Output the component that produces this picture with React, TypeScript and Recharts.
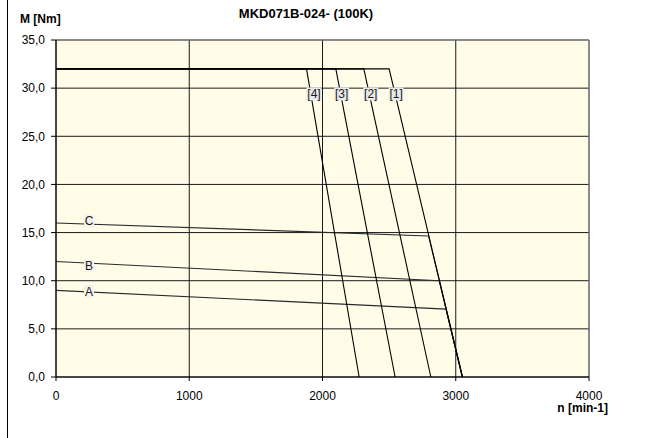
import { LineChart, Line, XAxis, YAxis, CartesianGrid, ReferenceLine, ReferenceDot } from 'recharts';

const speedTicks = [0, 1000, 2000, 3000, 4000];
const torqueTicks = [0, 5, 10, 15, 20, 25, 30, 35];

// torque-speed limit curves [1]..[4]
const curve1 = [{ n: 0, m: 32 }, { n: 2500, m: 32 }, { n: 3050, m: 0 }];
const curve2 = [{ n: 0, m: 32 }, { n: 2310, m: 32 }, { n: 2813, m: 0 }];
const curve3 = [{ n: 0, m: 32 }, { n: 2100, m: 32 }, { n: 2545, m: 0 }];
const curve4 = [{ n: 0, m: 32 }, { n: 1880, m: 32 }, { n: 2275, m: 0 }];

// continuous torque curves A, B, C
const curveA = [{ n: 0, m: 9 }, { n: 2927, m: 7.05 }, { n: 3050, m: 0 }];
const curveB = [{ n: 0, m: 12 }, { n: 2876, m: 10 }, { n: 3050, m: 0 }];
const curveC = [{ n: 0, m: 16 }, { n: 2796, m: 14.65 }, { n: 3050, m: 0 }];

const tags = [
  { text: '[4]', n: 1936, m: 29.4 },
  { text: '[3]', n: 2144, m: 29.4 },
  { text: '[2]', n: 2362, m: 29.4 },
  { text: '[1]', n: 2552, m: 29.4 },
  { text: 'C', n: 248, m: 16.2 },
  { text: 'B', n: 248, m: 11.6 },
  { text: 'A', n: 248, m: 8.9 },
];

const font = 'Liberation Sans, Arial, sans-serif';

const Tag = ({ cx, cy, text }: { cx: number; cy: number; text: string }) => {
  const w = text.length > 1 ? 15 : 10;
  return (
    <g>
      <rect x={cx - w / 2} y={cy - 6.5} width={w} height={13} fill={text.length > 1 ? '#e9e9e9' : '#f3f3ec'} />
      <text x={cx} y={cy} dy="0.36em" textAnchor="middle" fontSize={12} fontFamily={font} fill="#1a1a1a" stroke="none">
        {text}
      </text>
    </g>
  );
};

const series = [curve1, curve2, curve3, curve4];
const lower = [curveA, curveB, curveC];

export default function App() {
  const tick = { fontSize: 12, fill: '#000', fontFamily: font };
  return (
    <div style={{ position: 'absolute', left: 0, top: 0, width: 648, height: 438, background: '#fff', fontFamily: font }}>
      <div style={{ position: 'absolute', left: 7, top: 0, width: 1, height: 438, background: '#000' }} />
      <div style={{ position: 'absolute', left: 0, width: 612, top: 6, textAlign: 'center', fontSize: 13, fontWeight: 'bold' }}>
        MKD071B-024- (100K)
      </div>
      <div style={{ position: 'absolute', left: 20, top: 12, fontSize: 12, fontWeight: 'bold' }}>M [Nm]</div>
      <div style={{ position: 'absolute', right: 40, top: 401, fontSize: 12, fontWeight: 'bold' }}>n [min-1]</div>
      <LineChart width={648} height={438} margin={{ top: 40, right: 59, bottom: 31, left: 0 }}>
        <CartesianGrid stroke="#1a1a1a" fill="#fffde8" fillOpacity={1} />
        <XAxis
          type="number"
          dataKey="n"
          domain={[0, 4000]}
          ticks={speedTicks}
          height={30}
          tickSize={4}
          tickMargin={10}
          tick={tick}
          stroke="#000"
          allowDuplicatedCategory={false}
        />
        <YAxis
          type="number"
          dataKey="m"
          domain={[0, 35]}
          ticks={torqueTicks}
          width={56}
          tickSize={5}
          tickMargin={6}
          tick={tick}
          stroke="#000"
          tickFormatter={(v: number) => v.toFixed(1).replace('.', ',')}
        />
        <ReferenceLine y={35} stroke="#8a8a8a" />
        <ReferenceLine x={4000} stroke="#8a8a8a" />
        {lower.map((d, i) => (
          <Line key={'l' + i} data={d} dataKey="m" type="linear" stroke="#2a2a2a" strokeWidth={1.1} dot={false} isAnimationActive={false} />
        ))}
        {series.map((d, i) => (
          <Line key={'s' + i} data={d} dataKey="m" type="linear" stroke="#000" strokeWidth={1.1} dot={false} isAnimationActive={false} />
        ))}
        {tags.map((t) => (
          <ReferenceDot key={t.text} x={t.n} y={t.m} r={0} shape={(p: any) => <Tag cx={p.cx} cy={p.cy} text={t.text} />} />
        ))}
      </LineChart>
    </div>
  );
}
